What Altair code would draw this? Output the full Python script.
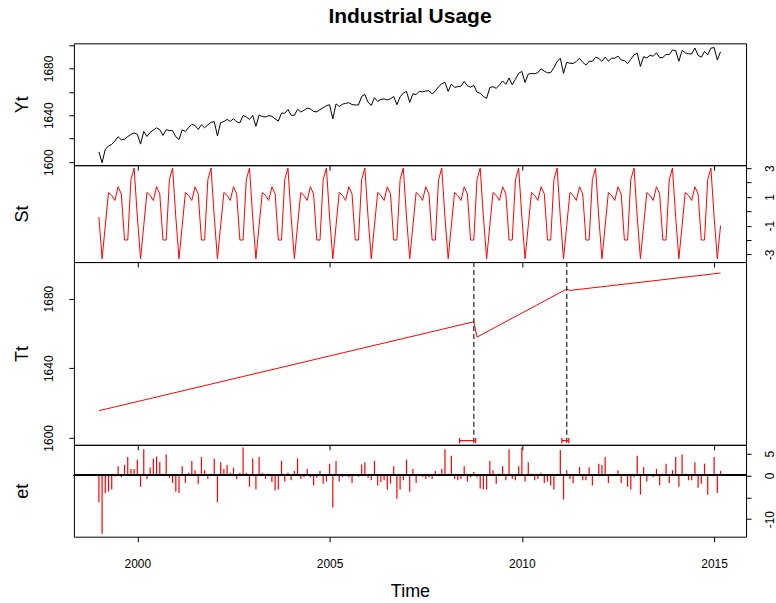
import altair as alt
import numpy as np
import pandas as pd

FONT = "Liberation Sans"

# ---- monthly series, Jan 1999 - Mar 2015 ----
start_year = 1999
n_months = 195

# observed series Yt
yt = [
    1608.8, 1599.5, 1611.0, 1613.7, 1615.1, 1618.1, 1621.7, 1619.0, 1619.6, 1621.8, 1623.7, 1624.9,
    1623.7, 1615.4, 1626.2, 1621.9, 1625.4, 1627.5, 1629.2, 1627.7, 1622.8, 1627.7, 1626.9, 1626.9,
    1621.7, 1619.3, 1627.6, 1626.2, 1629.4, 1632.2, 1631.3, 1627.9, 1631.9, 1629.3, 1631.9, 1634.0,
    1634.5, 1622.4, 1633.7, 1634.6, 1636.5, 1634.7, 1637.1, 1634.3, 1633.5, 1639.8, 1638.5, 1636.5,
    1639.8, 1630.6, 1640.1, 1639.0, 1638.5, 1639.7, 1639.1, 1636.9, 1635.0, 1641.9, 1641.7, 1644.9,
    1640.0, 1640.0, 1645.1, 1642.8, 1644.2, 1646.1, 1645.4, 1643.3, 1642.9, 1644.8, 1646.5, 1648.2,
    1649.0, 1636.9, 1649.7, 1647.5, 1649.4, 1650.2, 1650.7, 1649.1, 1648.8, 1648.8, 1656.1, 1657.8,
    1651.1, 1648.4, 1655.0, 1651.8, 1653.5, 1654.0, 1653.1, 1654.1, 1656.0, 1649.0, 1655.7, 1658.9,
    1660.4, 1651.0, 1658.4, 1657.6, 1660.5, 1660.0, 1660.7, 1660.9, 1658.3, 1660.6, 1664.4, 1666.8,
    1668.1, 1660.4, 1666.6, 1663.8, 1664.4, 1664.8, 1668.9, 1665.1, 1664.0, 1665.6, 1659.7, 1658.8,
    1656.0, 1654.4, 1663.6, 1664.5, 1662.9, 1665.8, 1669.3, 1666.4, 1671.9, 1666.0, 1670.8, 1675.8,
    1677.4, 1668.0, 1675.2, 1675.6, 1675.5, 1676.4, 1679.6, 1677.6, 1676.3, 1676.4, 1680.6, 1685.9,
    1688.6, 1675.8, 1685.2, 1684.4, 1684.2, 1685.9, 1688.6, 1685.2, 1682.8, 1686.0, 1686.1, 1689.5,
    1688.6, 1686.0, 1689.7, 1686.1, 1688.7, 1688.6, 1690.5, 1687.1, 1686.7, 1684.0, 1687.7, 1691.5,
    1693.0, 1681.7, 1690.0, 1688.9, 1691.2, 1690.4, 1693.3, 1689.1, 1689.4, 1691.9, 1691.8, 1695.7,
    1695.2, 1686.1, 1695.4, 1693.3, 1692.5, 1692.3, 1697.4, 1691.1, 1689.6, 1694.4, 1691.6, 1697.3,
    1697.8, 1687.2, 1694.2,
]

# seasonal component St (one row per year)
st = [
    -0.4, -3.3, -1.0, 1.3, 1.1, 0.75, 1.7, 1.2, -2.0, -2.0, 2.2, 3.0,
    -0.4, -3.3, -1.0, 1.3, 1.1, 0.75, 1.7, 1.2, -2.0, -2.0, 2.2, 3.0,
    -0.4, -3.3, -1.0, 1.3, 1.1, 0.75, 1.7, 1.2, -2.0, -2.0, 2.2, 3.0,
    -0.4, -3.3, -1.0, 1.3, 1.1, 0.75, 1.7, 1.2, -2.0, -2.0, 2.2, 3.0,
    -0.4, -3.3, -1.0, 1.3, 1.1, 0.75, 1.7, 1.2, -2.0, -2.0, 2.2, 3.0,
    -0.4, -3.3, -1.0, 1.3, 1.1, 0.75, 1.7, 1.2, -2.0, -2.0, 2.2, 3.0,
    -0.4, -3.3, -1.0, 1.3, 1.1, 0.75, 1.7, 1.2, -2.0, -2.0, 2.2, 3.0,
    -0.4, -3.3, -1.0, 1.3, 1.1, 0.75, 1.7, 1.2, -2.0, -2.0, 2.2, 3.0,
    -0.4, -3.3, -1.0, 1.3, 1.1, 0.75, 1.7, 1.2, -2.0, -2.0, 2.2, 3.0,
    -0.4, -3.3, -1.0, 1.3, 1.1, 0.75, 1.7, 1.2, -2.0, -2.0, 2.2, 3.0,
    -0.4, -3.3, -1.0, 1.3, 1.1, 0.75, 1.7, 1.2, -2.0, -2.0, 2.2, 3.0,
    -0.4, -3.3, -1.0, 1.3, 1.1, 0.75, 1.7, 1.2, -2.0, -2.0, 2.2, 3.0,
    -0.4, -3.3, -1.0, 1.3, 1.1, 0.75, 1.7, 1.2, -2.0, -2.0, 2.2, 3.0,
    -0.4, -3.3, -1.0, 1.3, 1.1, 0.75, 1.7, 1.2, -2.0, -2.0, 2.2, 3.0,
    -0.4, -3.3, -1.0, 1.3, 1.1, 0.75, 1.7, 1.2, -2.0, -2.0, 2.2, 3.0,
    -0.4, -3.3, -1.0, 1.3, 1.1, 0.75, 1.7, 1.2, -2.0, -2.0, 2.2, 3.0,
    -0.4, -3.3, -1.0,
]

# remainder component et
et = [
    -6.1, -13.3, -4.0, -3.7, -3.2, -0.3, 2.1, -0.4, 2.4, 4.2, 1.5, 1.5,
    3.6, -2.6, 6.0, -0.8, 1.8, 3.9, 4.3, 3.1, 0.4, 4.8, -0.5, -1.7,
    -3.7, -4.0, 2.1, -1.7, 0.6, 3.3, 1.2, -1.9, 4.2, 1.2, -0.8, 0.2,
    3.9, -6.1, 3.0, 1.5, 2.4, 0.6, 1.8, -0.8, 0.6, 6.4, 0.6, -2.6,
    3.9, -3.2, 4.2, 0.6, -0.8, 0.4, -1.5, -3.4, -3.2, 3.3, -1.4, 0.6,
    -1.1, 1.0, 3.9, -0.8, -0.4, 1.5, -0.4, -2.3, -0.5, 1.0, -1.9, -1.4,
    2.7, -7.3, 3.3, -1.4, -0.4, 0.4, -0.4, -1.7, 0.2, -0.3, 2.5, 3.0,
    -0.5, -1.1, 3.3, -2.3, -1.5, -1.1, -3.2, -1.9, 2.1, -5.3, -3.2, -1.1,
    3.6, -3.7, 1.5, -1.7, 0.2, -0.3, -0.8, -0.4, -0.8, 1.0, 0.3, 1.5,
    6.0, 0.4, 4.5, -0.8, -1.1, -0.8, 2.1, -1.4, -0.4, 0.8, -0.4, -3.0,
    -3.2, -3.2, 3.3, 1.2, -1.9, 0.4, 2.1, -1.1, 6.0, -0.8, -1.1, 2.1,
    6.4, -1.4, 3.0, 0.4, -1.1, -0.8, 0.6, -1.7, -1.4, -2.3, -3.2, 0.4,
    5.8, -5.5, 1.2, -0.8, -1.7, 0.2, 1.9, -1.1, -1.1, 1.9, -2.3, 0.1,
    2.7, 2.4, 4.2, -1.7, 0.2, 0.3, 1.2, -1.7, 0.3, -2.6, -3.2, -0.4,
    4.5, -4.4, 1.9, -1.4, 0.2, -0.4, 1.5, -2.3, 0.4, 2.7, -1.7, 1.2,
    4.2, -2.6, 4.8, 0.4, -1.1, -1.1, 3.0, -2.8, -1.9, 2.7, -4.4, 0.3,
    4.2, -4.0, 1.0,
]

# trend component Tt: end points of the three linear segments
trend_time = [1999.0, 2008.75, 2008.8333, 2011.1667, 2011.25, 2015.1667]
trend_value = [1615.6, 1666.7, 1657.9, 1685.5, 1684.7, 1694.7]

# detected breaks and their confidence intervals
break_time = [2008.75, 2011.1667]
ci_low = [2008.38, 2011.04]
ci_high = [2008.80, 2011.22]

t = start_year + np.arange(n_months) / 12.0
df = pd.DataFrame({"t": t, "yt": yt, "st": st, "et": et, "zero": 0.0})
trend_df = pd.DataFrame({"t": trend_time, "tt": trend_value})
break_df = pd.DataFrame({"b": break_time, "lo": ci_low, "hi": ci_high})

W = 673
H_YT, H_ST, H_TT, H_ET = 122, 97, 183, 92
xscale = alt.Scale(domain=[1998.35, 2015.83], nice=False, zero=False)
year_ticks = [2000, 2005, 2010, 2015]


def x_enc(field="t", last=False):
    if last:
        ax = alt.Axis(values=year_ticks, format="d", labelFontSize=12, labelPadding=17,
                      tickSize=5, grid=False, domain=False, titleFontSize=18,
                      titleFontWeight="normal", titleY=55, titleBaseline="middle")
        return alt.X(f"{field}:Q", scale=xscale, axis=ax, title="Time")
    ax = alt.Axis(values=year_ticks, labels=False, tickSize=5, grid=False, domain=False)
    return alt.X(f"{field}:Q", scale=xscale, axis=ax, title=None)


def y_axis(values, label_expr, height, right=False):
    common = dict(values=values, labelExpr=label_expr, labelAngle=270,
                  labelAlign="center", labelPadding=13, tickSize=5, grid=False, domain=False,
                  labelFontSize=12, labelOverlap=False, titleAngle=270, titleAlign="center",
                  titleBaseline="middle", titleFontSize=18, titleFontWeight="normal",
                  titleY=height / 2)
    if right:
        return alt.Axis(orient="right", labelBaseline="top", titleX=-(W + 51), **common)
    return alt.Axis(orient="left", labelBaseline="bottom", titleX=-51, **common)


LEVEL_LABELS = "datum.value % 40 == 0 ? '' + datum.value : ''"

# Yt panel
yt_chart = alt.Chart(df).mark_line(color="black", strokeWidth=1).encode(
    x=x_enc(),
    y=alt.Y("yt:Q", scale=alt.Scale(domain=[1597.4, 1701.4], nice=False, zero=False),
            axis=y_axis(list(range(1600, 1701, 20)), LEVEL_LABELS, H_YT), title="Yt"),
).properties(width=W, height=H_YT)

# St panel
st_chart = alt.Chart(df).mark_line(color="red", strokeWidth=1).encode(
    x=x_enc(),
    y=alt.Y("st:Q", scale=alt.Scale(domain=[-3.53, 3.2], nice=False, zero=False),
            axis=y_axis(list(range(-3, 4)), "abs(datum.value) % 2 == 1 ? '' + datum.value : ''",
                        H_ST, right=True), title="St"),
).properties(width=W, height=H_ST)

# Tt panel with break lines and confidence intervals
tt_scale = alt.Scale(domain=[1596, 1701], nice=False, zero=False)
tt_line = alt.Chart(trend_df).mark_line(color="red", strokeWidth=1).encode(
    x=x_enc(),
    y=alt.Y("tt:Q", scale=tt_scale,
            axis=y_axis(list(range(1600, 1701, 20)), LEVEL_LABELS, H_TT), title="Tt"),
)
break_lines = alt.Chart(break_df).mark_rule(color="#333333", strokeWidth=1.3, strokeDash=[5, 3]).encode(
    x=x_enc("b"),
)
ci_bar = alt.Chart(break_df).mark_rule(color="red", strokeWidth=1.2).encode(
    x=x_enc("lo"), x2="hi", y=alt.datum(1598.4, scale=tt_scale),
)
ci_cap_lo = alt.Chart(break_df).mark_rule(color="red", strokeWidth=1.2).encode(
    x=x_enc("lo"), y=alt.datum(1596.9), y2=alt.datum(1599.9),
)
ci_cap_hi = alt.Chart(break_df).mark_rule(color="red", strokeWidth=1.2).encode(
    x=x_enc("hi"), y=alt.datum(1596.9), y2=alt.datum(1599.9),
)
tt_chart = alt.layer(tt_line, break_lines, ci_bar, ci_cap_lo, ci_cap_hi).properties(width=W, height=H_TT)

# et panel
et_scale = alt.Scale(domain=[-14.0, 7.0], nice=False, zero=False)
et_axis = y_axis([-10, -5, 0, 5], "datum.value == -5 ? '' : '' + datum.value", H_ET, right=True)
et_bars = alt.Chart(df).mark_rule(color="red", strokeWidth=1.2).encode(
    x=x_enc(last=True),
    y=alt.Y("et:Q", scale=et_scale, axis=et_axis, title="et"),
    y2="zero:Q",
)
et_zero = alt.Chart(df).mark_rule(color="black", strokeWidth=1.3).encode(
    y=alt.Y(datum=0, scale=et_scale, axis=et_axis, title="et")
)
et_chart = alt.layer(et_bars, et_zero).properties(width=W, height=H_ET)

chart = alt.vconcat(yt_chart, st_chart, tt_chart, et_chart, spacing=0, bounds="flush").properties(
    title=alt.TitleParams("Industrial Usage", fontSize=21, font=FONT, fontWeight="bold",
                          anchor="middle", frame="group", offset=16, color="black"),
    padding={"left": 13, "top": 5, "right": 0, "bottom": 0},
).configure(font=FONT).configure_view(stroke="black", strokeWidth=1).configure_axis(
    labelFont=FONT, titleFont=FONT, labelColor="black", titleColor="black", tickColor="black"
)

chart.save("out.html", embed_options={"renderer": "svg", "actions": False})
